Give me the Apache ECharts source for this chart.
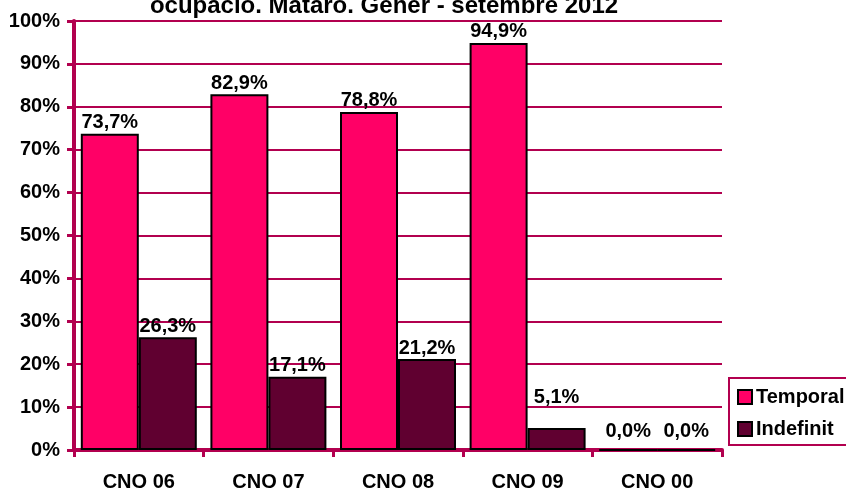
<!DOCTYPE html>
<html>
<head>
<meta charset="utf-8">
<script src="https://cdn.jsdelivr.net/npm/echarts@6/dist/echarts.min.js"></script>
<style>
  html, body { margin: 0; padding: 0; background: #fff; }
  #chart { width: 846px; height: 492px; }
</style>
</head>
<body>
<div id="chart"></div>
<script>
// Occupation groups (CNO) and share of contracts by type
const categories = ['CNO 06', 'CNO 07', 'CNO 08', 'CNO 09', 'CNO 00'];
const temporal = [73.7, 82.9, 78.8, 94.9, 0.0];
const indefinit = [26.3, 17.1, 21.2, 5.1, 0.0];
const seriesNames = ['Temporal', 'Indefinit'];
const titleText = 'ocupació. Mataró. Gener - setembre 2012';

const FONT = '"Liberation Sans", Arial, sans-serif';
const AXIS_COLOR = '#b2004f';
const fmt = v => v.toFixed(1).replace('.', ',') + '%';

// Small bars get their labels lifted a bit more, as in the original workbook layout
const liftedLabel = v => (v === 0 ? 8 : v < 10 ? 21 : 1);
const toItems = arr => arr.map(v => ({ value: v, label: { distance: liftedLabel(v) } }));

const chart = echarts.init(document.getElementById('chart'));

const labelStyle = {
  show: true,
  position: 'top',
  distance: 1,
  fontFamily: FONT,
  fontWeight: 'bold',
  fontSize: 20,
  color: '#000',
  formatter: p => fmt(p.value)
};

chart.setOption({
  animation: false,
  backgroundColor: '#fff',
  title: {
    text: titleText,
    left: 379,
    textAlign: 'center',
    top: -11,
    textStyle: { fontFamily: FONT, fontWeight: 'bold', fontSize: 24, color: '#000' }
  },
  legend: {
    data: seriesNames,
    orient: 'vertical',
    left: 729,
    top: 378,
    padding: [9, 20, 6, 8],
    itemGap: 12,
    itemWidth: 14,
    itemHeight: 14,
    borderColor: AXIS_COLOR,
    borderWidth: 2,
    icon: 'rect',
    textStyle: { fontFamily: FONT, fontWeight: 'bold', fontSize: 20, color: '#000', padding: [0, 0, 0, -1] }
  },
  grid: { left: 74, right: 124, top: 21, bottom: 42, containLabel: false },
  xAxis: {
    type: 'category',
    data: categories,
    axisLine: { lineStyle: { color: AXIS_COLOR, width: 4 } },
    axisTick: { show: true, length: 7, lineStyle: { color: AXIS_COLOR, width: 3 } },
    axisLabel: { fontFamily: FONT, fontWeight: 'bold', fontSize: 20, color: '#000', margin: 22 }
  },
  yAxis: {
    type: 'value',
    min: 0,
    max: 100,
    interval: 10,
    axisLine: { show: true, lineStyle: { color: AXIS_COLOR, width: 4 } },
    axisTick: { show: true, length: 7, lineStyle: { color: AXIS_COLOR, width: 3 } },
    splitLine: { lineStyle: { color: AXIS_COLOR, width: 2 } },
    axisLabel: {
      fontFamily: FONT, fontWeight: 'bold', fontSize: 20, color: '#000', margin: 14,
      formatter: v => v + '%'
    }
  },
  series: [
    {
      name: seriesNames[0],
      type: 'bar',
      data: toItems(temporal),
      barGap: '0%',
      barCategoryGap: '10.5%',
      itemStyle: { color: '#ff0066', borderColor: '#000', borderWidth: 2 },
      label: labelStyle
    },
    {
      name: seriesNames[1],
      type: 'bar',
      data: toItems(indefinit),
      itemStyle: { color: '#600030', borderColor: '#000', borderWidth: 2 },
      label: labelStyle
    }
  ]
});
</script>
</body>
</html>
